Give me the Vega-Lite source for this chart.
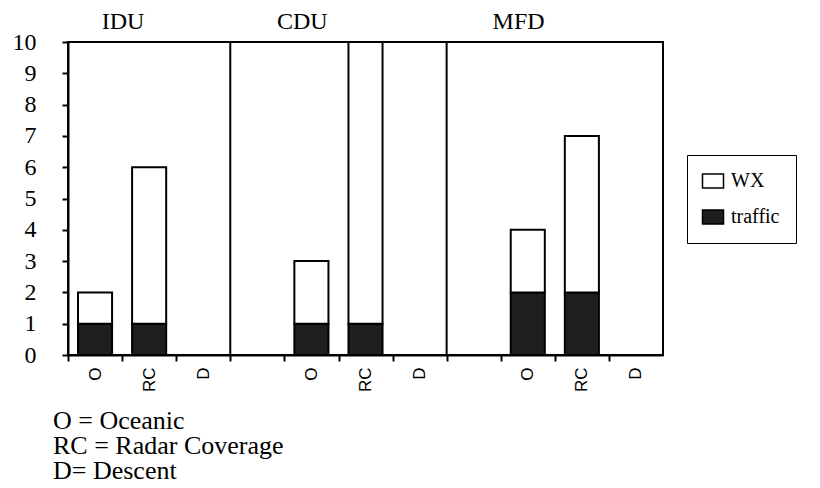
{
  "$schema": "https://vega.github.io/schema/vega-lite/v6.json",
  "width": 595,
  "height": 313,
  "autosize": {"type": "none"},
  "padding": {"left": 68, "top": 42, "right": 157, "bottom": 133},
  "background": "white",
  "config": {
    "view": {"stroke": "black", "strokeWidth": 2},
    "font": "Liberation Serif",
    "axis": {"domainColor": "black", "domainWidth": 2, "tickColor": "black", "tickWidth": 2, "labelColor": "black", "grid": false}
  },
  "title": {
    "text": ["O = Oceanic", "RC = Radar Coverage", "D= Descent"],
    "orient": "bottom",
    "anchor": "start",
    "frame": "group",
    "align": "left",
    "font": "Liberation Serif",
    "fontSize": 26,
    "fontWeight": "normal",
    "lineHeight": 25,
    "dx": -15,
    "offset": 16,
    "color": "black"
  },
  "layer": [
    {
      "data": {
        "values": [
          {"slot": "IDU|O", "series": "traffic", "n": 1},
          {"slot": "IDU|O", "series": "WX", "n": 1},
          {"slot": "IDU|RC", "series": "traffic", "n": 1},
          {"slot": "IDU|RC", "series": "WX", "n": 5},
          {"slot": "IDU|D", "series": "traffic", "n": 0},
          {"slot": "IDU|D", "series": "WX", "n": 0},
          {"slot": "CDU|O", "series": "traffic", "n": 1},
          {"slot": "CDU|O", "series": "WX", "n": 2},
          {"slot": "CDU|RC", "series": "traffic", "n": 1},
          {"slot": "CDU|RC", "series": "WX", "n": 9},
          {"slot": "CDU|D", "series": "traffic", "n": 0},
          {"slot": "CDU|D", "series": "WX", "n": 0},
          {"slot": "MFD|O", "series": "traffic", "n": 2},
          {"slot": "MFD|O", "series": "WX", "n": 2},
          {"slot": "MFD|RC", "series": "traffic", "n": 2},
          {"slot": "MFD|RC", "series": "WX", "n": 5},
          {"slot": "MFD|D", "series": "traffic", "n": 0},
          {"slot": "MFD|D", "series": "WX", "n": 0}
        ]
      },
      "mark": {"type": "bar", "stroke": "black", "strokeWidth": 2},
      "encoding": {
        "x": {
          "field": "slot",
          "type": "nominal",
          "sort": null,
          "scale": {
            "domain": ["IDU|O", "IDU|RC", "IDU|D", "gap1", "CDU|O", "CDU|RC", "CDU|D", "gap2", "MFD|O", "MFD|RC", "MFD|D"],
            "paddingInner": 0.37,
            "paddingOuter": 0.185
          },
          "axis": {
            "title": null,
            "labelExpr": "indexof(datum.label, 'gap') == 0 ? '' : split(datum.label, '|')[1]",
            "labelAngle": 270,
            "labelFont": "Liberation Sans",
            "labelFontSize": 17,
            "tickSize": 6,
            "tickOffset": -27,
            "labelOffset": 27,
            "labelPadding": 6
          }
        },
        "y": {
          "field": "n",
          "type": "quantitative",
          "scale": {"domain": [0, 10]},
          "axis": {"title": null, "tickCount": 10, "tickSize": 6, "labelFontSize": 24, "labelPadding": 26}
        },
        "color": {
          "field": "series",
          "type": "nominal",
          "scale": {"domain": ["WX", "traffic"], "range": ["white", "#1e1e1e"]},
          "legend": {
            "orient": "none",
            "legendX": 619,
            "legendY": 113,
            "title": null,
            "strokeColor": "black",
            "padding": 16,
            "rowPadding": 16,
            "labelFontSize": 20,
            "labelFont": "Liberation Serif",
            "labelColor": "black",
            "labelOffset": 8,
            "symbolType": "M-1.5,-1H1.5V1H-1.5Z",
            "symbolSize": 196,
            "symbolStrokeColor": "black",
            "symbolStrokeWidth": 1.5
          }
        }
      }
    },
    {
      "data": {"values": [{"slot": "gap1"}, {"slot": "gap2"}]},
      "mark": {"type": "rule", "color": "black", "strokeWidth": 2},
      "encoding": {
        "x": {"field": "slot", "type": "nominal", "bandPosition": -0.2937}
      }
    },
    {
      "data": {"values": [{"slot": "IDU|O", "panel": "IDU"}]},
      "mark": {"type": "text", "fontSize": 24, "font": "Liberation Serif", "color": "black", "baseline": "middle", "dy": -20},
      "encoding": {
        "x": {"field": "slot", "type": "nominal", "bandPosition": 1.32},
        "y": {"datum": 10, "type": "quantitative"},
        "text": {"field": "panel"}
      }
    },
    {
      "data": {"values": [{"slot": "CDU|O", "panel": "CDU"}, {"slot": "MFD|O", "panel": "MFD"}]},
      "mark": {"type": "text", "fontSize": 24, "font": "Liberation Serif", "color": "black", "baseline": "middle", "dy": -20},
      "encoding": {
        "x": {"field": "slot", "type": "nominal", "bandPosition": 0.23},
        "y": {"datum": 10, "type": "quantitative"},
        "text": {"field": "panel"}
      }
    }
  ]
}
